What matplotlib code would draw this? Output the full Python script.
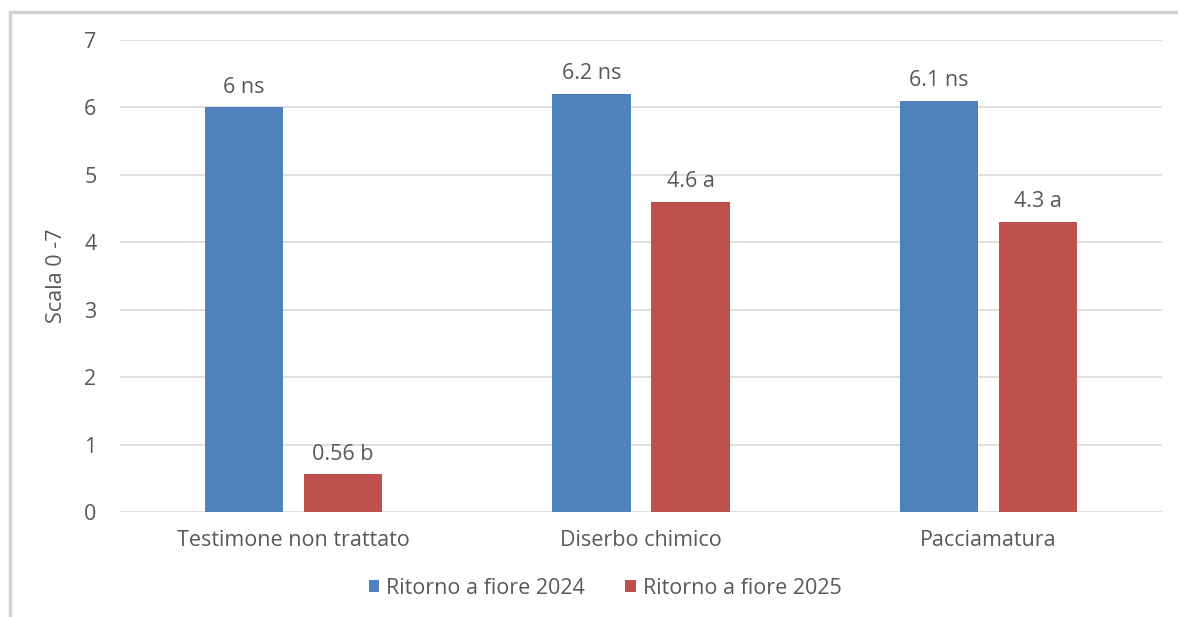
import matplotlib.pyplot as plt
from matplotlib.patches import Rectangle

# dati
categorie = ['Testimone non trattato', 'Diserbo chimico', 'Pacciamatura']
valori_2024 = [6.0, 6.2, 6.1]
valori_2025 = [0.56, 4.6, 4.3]
etichette_2024 = ['6 ns', '6.2 ns', '6.1 ns']
etichette_2025 = ['0.56 b', '4.6 a', '4.3 a']
serie = ['Ritorno a fiore 2024', 'Ritorno a fiore 2025']

plt.rcParams['font.family'] = ['Open Sans', 'DejaVu Sans']
grigio = '#595959'
blu = '#4F81BD'
rosso = '#C0504D'
fs = 15.5

fig = plt.figure(figsize=(11.78, 6.17), dpi=100)
ax = fig.add_axes([120 / 1178, 1 - 512 / 617, 1042 / 1178, 472 / 617])

# cornice grigia del grafico (bordo sinistro e superiore)
fig.patches.append(Rectangle((10 / 1178, -0.1), 1.1, 1 - 12 / 617 + 0.1,
                             transform=fig.transFigure, fill=False,
                             edgecolor='#D4D4D4', linewidth=2.5))

x = list(range(len(categorie)))
larghezza = 0.225
scarto = 0.1426
b1 = ax.bar([i - scarto for i in x], valori_2024, larghezza, color=blu,
            label=serie[0], zorder=3)
b2 = ax.bar([i + scarto for i in x], valori_2025, larghezza, color=rosso,
            label=serie[1], zorder=3)

for barre, etichette in ((b1, etichette_2024), (b2, etichette_2025)):
    for barra, testo in zip(barre, etichette):
        ax.annotate(testo, (barra.get_x() + barra.get_width() / 2, barra.get_height()),
                    xytext=(0, 7), textcoords='offset points', ha='center',
                    va='bottom', fontsize=fs, color=grigio)

ax.set_xlim(-0.5, 2.5)
ax.set_ylim(0, 7)
ax.set_yticks(range(8))
ax.set_xticks(x)
ax.set_xticklabels(categorie)
ax.grid(axis='y', color='#D9D9D9', linewidth=1.2, zorder=0)
ax.tick_params(length=0, labelsize=fs, colors=grigio)
ax.tick_params(axis='x', pad=13)
ax.tick_params(axis='y', pad=17)
for s in ax.spines.values():
    s.set_visible(False)
ax.set_ylabel('Scala 0 -7', fontsize=fs, color=grigio, labelpad=12)

fig.legend(handles=[b1, b2], loc='center', bbox_to_anchor=(605 / 1178, 1 - 588 / 617),
           ncol=2, frameon=False, fontsize=fs, handlelength=0.5, handleheight=0.5,
           columnspacing=1.9, handletextpad=0.3, labelcolor=grigio)

fig.savefig('out.png', dpi=100)
